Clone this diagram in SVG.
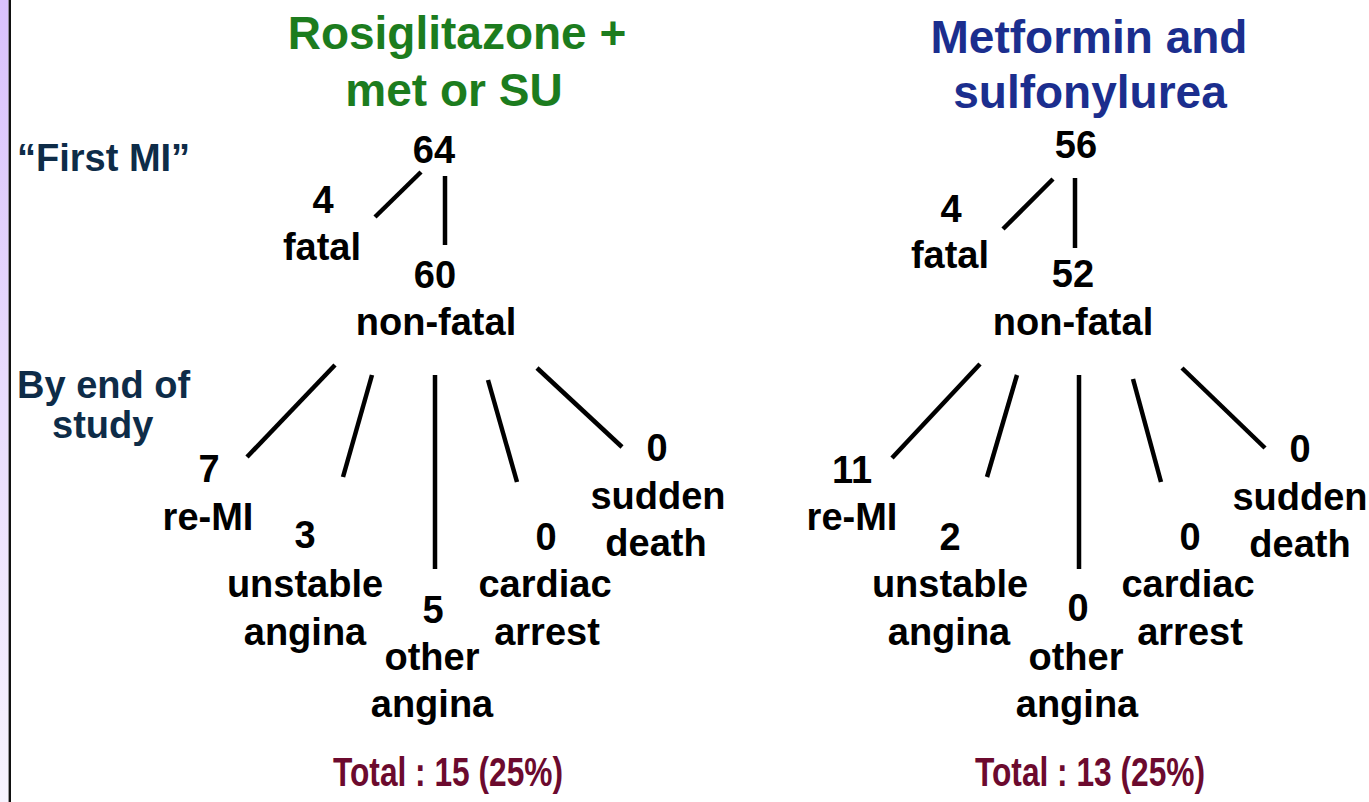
<svg xmlns="http://www.w3.org/2000/svg" width="1369" height="802" viewBox="0 0 1369 802">
<defs>
<linearGradient id="strip" x1="0" y1="0" x2="0" y2="1">
<stop offset="0" stop-color="#d9c1fc"/>
<stop offset="0.5" stop-color="#e9dcfd"/>
<stop offset="1" stop-color="#f7f3fe"/>
</linearGradient>
<style>
text{font-family:"Liberation Sans",Arial,sans-serif;font-weight:bold;text-anchor:middle}
.t{font-size:38px;fill:#000}
.title{font-size:46px}
.green{fill:#1c7c1e}
.blue{fill:#1b2e8e}
.side{font-size:38px;fill:#0e2c48;text-anchor:start}
.total{font-size:40px;fill:#6c0a2e}
.c line{stroke:#000;stroke-width:4.5;stroke-linecap:butt}
</style>
</defs>
<rect width="1369" height="802" fill="#fff"/>
<rect x="0" y="0" width="8.5" height="802" fill="url(#strip)"/>
<line x1="9.8" y1="0" x2="9.8" y2="802" stroke="#111" stroke-width="2.4"/>

<g id="side-labels">
<text class="side" x="17" y="171">“First MI”</text>
<text class="side" x="17" y="398">By end of</text>
<text class="side" x="52" y="438">study</text>
</g>

<g class="c" id="connectors">
<line x1="421" y1="172" x2="375" y2="217"/>
<line x1="445" y1="176" x2="445" y2="245"/>
<line x1="335" y1="365" x2="247" y2="457"/>
<line x1="372" y1="375" x2="343" y2="477"/>
<line x1="435" y1="375" x2="435" y2="569"/>
<line x1="488" y1="380" x2="517" y2="482"/>
<line x1="537" y1="368" x2="622" y2="447"/>
<line x1="1053" y1="179" x2="1003" y2="229"/>
<line x1="1075" y1="178" x2="1075" y2="248"/>
<line x1="980" y1="364" x2="892" y2="458"/>
<line x1="1017" y1="375" x2="987" y2="477"/>
<line x1="1079" y1="375" x2="1079" y2="569"/>
<line x1="1133" y1="379" x2="1161" y2="482"/>
<line x1="1182" y1="368" x2="1265" y2="448"/>
</g>

<g id="left-title">
<text class="title green" x="457" y="49">Rosiglitazone +</text>
<text class="title green" x="454" y="106">met or SU</text>
</g>
<g id="left-first"><text class="t" x="434" y="163">64</text></g>
<g id="left-fatal"><text class="t" x="323" y="213">4</text><text class="t" x="322" y="260">fatal</text></g>
<g id="left-nonfatal"><text class="t" x="435" y="288">60</text><text class="t" x="436" y="335">non-fatal</text></g>
<g id="left-remi"><text class="t" x="209" y="482">7</text><text class="t" x="208" y="530">re-MI</text></g>
<g id="left-unstable"><text class="t" x="305" y="548">3</text><text class="t" x="305" y="597">unstable</text><text class="t" x="305" y="645">angina</text></g>
<g id="left-other"><text class="t" x="433" y="623">5</text><text class="t" x="432" y="670">other</text><text class="t" x="432" y="717">angina</text></g>
<g id="left-cardiac"><text class="t" x="546" y="550">0</text><text class="t" x="545" y="597">cardiac</text><text class="t" x="547" y="645">arrest</text></g>
<g id="left-sudden"><text class="t" x="657" y="461">0</text><text class="t" x="658" y="509">sudden</text><text class="t" x="656" y="556">death</text></g>
<g id="left-total"><text class="total" x="448" y="786" textLength="230" lengthAdjust="spacingAndGlyphs">Total : 15 (25%)</text></g>

<g id="right-title">
<text class="title blue" x="1089" y="53">Metformin and</text>
<text class="title blue" x="1090" y="108">sulfonylurea</text>
</g>
<g id="right-first"><text class="t" x="1076" y="158">56</text></g>
<g id="right-fatal"><text class="t" x="951" y="222">4</text><text class="t" x="950" y="268">fatal</text></g>
<g id="right-nonfatal"><text class="t" x="1073" y="287">52</text><text class="t" x="1073" y="335">non-fatal</text></g>
<g id="right-remi"><text class="t" x="852" y="483">11</text><text class="t" x="852" y="530">re-MI</text></g>
<g id="right-unstable"><text class="t" x="950" y="550">2</text><text class="t" x="950" y="597">unstable</text><text class="t" x="949" y="645">angina</text></g>
<g id="right-other"><text class="t" x="1078" y="621">0</text><text class="t" x="1076" y="670">other</text><text class="t" x="1077" y="717">angina</text></g>
<g id="right-cardiac"><text class="t" x="1190" y="550">0</text><text class="t" x="1188" y="597">cardiac</text><text class="t" x="1190" y="645">arrest</text></g>
<g id="right-sudden"><text class="t" x="1300" y="462">0</text><text class="t" x="1300" y="510">sudden</text><text class="t" x="1300" y="557">death</text></g>
<g id="right-total"><text class="total" x="1090" y="786" textLength="230" lengthAdjust="spacingAndGlyphs">Total : 13 (25%)</text></g>
</svg>
